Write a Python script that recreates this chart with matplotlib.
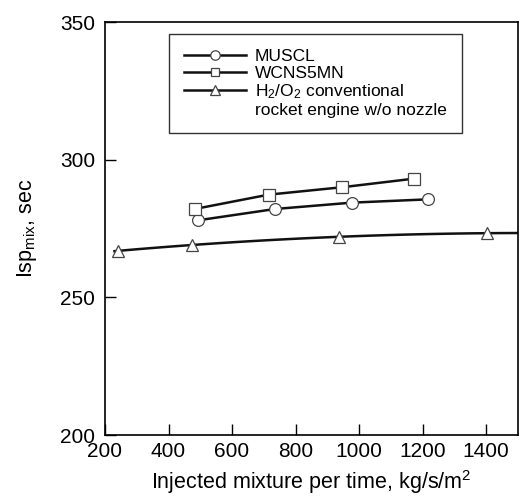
import numpy as np
import matplotlib.pyplot as plt

plt.rcParams['font.family'] = ['Liberation Sans', 'DejaVu Sans']
plt.rcParams['mathtext.fontset'] = 'custom'
plt.rcParams['mathtext.rm'] = 'Liberation Sans'
plt.rcParams['mathtext.it'] = 'Liberation Sans'

# injected mixture per time (kg/s/m^2) and mixture Isp (sec)
muscl_x = [494, 736, 977, 1218]
muscl_isp = [278.0, 282.1, 284.4, 285.6]

wcns_x = [483, 715, 947, 1172]
wcns_isp = [282.1, 287.3, 290.0, 293.1]

rocket_x = [242, 473, 937, 1401]
rocket_isp = [266.9, 269.0, 272.0, 273.3]

fig = plt.figure(figsize=(5.21, 4.97), dpi=100)
ax = fig.add_axes([0.2015, 0.1247, 0.7927, 0.831])

lc = '#111111'
mk = dict(markerfacecolor='white', markeredgecolor='#444444', markeredgewidth=0.9)
ax.plot(muscl_x, muscl_isp, '-o', color=lc, lw=1.8, ms=8.5, label='MUSCL', **mk)
ax.plot(wcns_x, wcns_isp, '-s', color=lc, lw=1.8, ms=8, label='WCNS5MN', **mk)

# rocket engine curve: smooth fit through the points, run across the whole range
coef = np.polyfit(rocket_x, rocket_isp, 2)
xs = np.linspace(230, 1500, 100)
ax.plot(xs, np.polyval(coef, xs), color=lc, lw=1.8)
ax.plot(rocket_x, rocket_isp, '^', ms=8.5, **mk)
ax.plot([], [], '-^', color=lc, lw=1.8, ms=8.5,
        label='H$_2$/O$_2$ conventional', **mk)
# second line of the rocket label, no handle
ax.plot([], [], ' ', label='rocket engine w/o nozzle')

ax.set_xlim(200, 1500)
ax.set_ylim(200, 350)
ax.set_xticks([200, 400, 600, 800, 1000, 1200, 1400])
ax.set_yticks([200, 250, 300, 350])
ax.tick_params(direction='in', length=8, width=1, labelsize=15)
ax.tick_params(axis='x', pad=5)
ax.tick_params(axis='y', pad=7)
for s in ax.spines.values():
    s.set_linewidth(1.2)

ax.set_xlabel('Injected mixture per time, kg/s/m$^2$', fontsize=15.5, labelpad=5)
ax.set_ylabel('Isp$_{\\mathrm{mix}}$, sec', fontsize=15.5)
ax.yaxis.set_label_coords(-0.16, 0.5)

leg = ax.legend(loc='upper left', bbox_to_anchor=(0.155, 0.971), fontsize=12.5,
                handlelength=3.6, frameon=True, fancybox=False, edgecolor='black',
                borderpad=0.85, labelspacing=0.1, handletextpad=0.5,
                markerscale=0.8, borderaxespad=0)
leg.get_frame().set_linewidth(1.0)

fig.savefig('out.png', dpi=100)
